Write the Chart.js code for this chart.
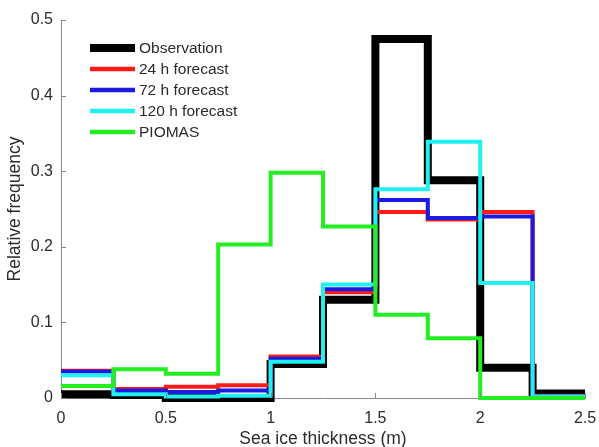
<!DOCTYPE html>
<html>
<head>
<meta charset="utf-8">
<script src="https://cdn.jsdelivr.net/npm/chart.js@4/dist/chart.umd.min.js"></script>
<style>
html,body{margin:0;padding:0;background:#fff;}
#wrap{width:599px;height:447px;position:relative;}
</style>
</head>
<body>
<div id="wrap"><canvas id="c" width="599" height="447"></canvas></div>
<script>
// Bin edges (m)
const binEdges = [0, 0.25, 0.5, 0.75, 1.0, 1.25, 1.5, 1.75, 2.0, 2.25, 2.5];
// Relative frequency per bin
const observation = [0.005, 0.004, 0.0, 0.0, 0.045, 0.13, 0.475, 0.288, 0.04, 0.006];
const forecast24  = [0.036, 0.012, 0.015, 0.017, 0.055, 0.14, 0.246, 0.236, 0.246, 0.003];
const forecast72  = [0.035, 0.010, 0.008, 0.010, 0.052, 0.144, 0.262, 0.238, 0.240, 0.002];
const forecast120 = [0.030, 0.005, 0.002, 0.003, 0.048, 0.150, 0.276, 0.339, 0.152, 0.002];
const piomas      = [0.016, 0.038, 0.032, 0.203, 0.298, 0.227, 0.110, 0.079, 0.0, 0.0];
const seriesNames = ['Observation', '24 h forecast', '72 h forecast', '120 h forecast', 'PIOMAS'];
const xTicks = [0, 0.5, 1, 1.5, 2, 2.5];
const yTicks = [0, 0.1, 0.2, 0.3, 0.4, 0.5];

const colors = ['#000000', '#ff1a1a', '#1a1ae0', '#1ff0f0', '#22ee22'];
const widths = [8, 4, 4, 4, 4];
const allVals = [observation, forecast24, forecast72, forecast120, piomas];

function toSteps(vals) {
  const pts = vals.map((v, i) => ({x: binEdges[i], y: v}));
  pts.push({x: binEdges[binEdges.length - 1], y: vals[vals.length - 1]});
  return pts;
}

const datasets = allVals.map((vals, i) => ({
  label: seriesNames[i],
  data: toSteps(vals),
  borderColor: colors[i],
  backgroundColor: colors[i],
  borderWidth: widths[i],
  stepped: 'before',
  pointRadius: 0,
  fill: false,
  clip: false,
  order: allVals.length - i,
  borderCapStyle: 'butt',
  borderJoinStyle: 'miter'
}));

const FONT = "'Liberation Sans', Arial, Helvetica, sans-serif";
const TXT = '#2b2b2b';
const AX = '#8a8a8a';
const fmt = v => String(+Number(v).toFixed(2));

const extras = {
  id: 'extras',
  afterDraw(chart) {
    const ctx = chart.ctx;
    const xs = chart.scales.x, ys = chart.scales.y;
    const a = chart.chartArea;
    ctx.save();
    // inward tick marks
    ctx.strokeStyle = AX;
    ctx.lineWidth = 1;
    yTicks.forEach(v => {
      const p = Math.round(ys.getPixelForValue(v)) + 0.5;
      ctx.beginPath(); ctx.moveTo(a.left, p); ctx.lineTo(a.left + 5, p); ctx.stroke();
    });
    xTicks.forEach(v => {
      const p = Math.round(xs.getPixelForValue(v)) + 0.5;
      ctx.beginPath(); ctx.moveTo(p, a.bottom); ctx.lineTo(p, a.bottom - 5); ctx.stroke();
    });
    // legend inside the plot
    const lx = a.left + 29, ly = a.top + 28, gap = 21, len = 45;
    ctx.font = '15.5px ' + FONT;
    ctx.textBaseline = 'middle';
    ctx.textAlign = 'left';
    seriesNames.forEach((n, i) => {
      const y = ly + i * gap;
      ctx.strokeStyle = colors[i];
      ctx.lineWidth = widths[i] + (i === 0 ? 0 : 0.5);
      ctx.lineCap = 'butt';
      ctx.beginPath(); ctx.moveTo(lx, y); ctx.lineTo(lx + len, y); ctx.stroke();
      ctx.fillStyle = TXT;
      ctx.fillText(n, lx + len + 4, y + 1);
    });
    ctx.restore();
  }
};

new Chart(document.getElementById('c'), {
  type: 'line',
  data: {datasets},
  options: {
    responsive: false,
    animation: false,
    devicePixelRatio: 1,
    layout: {padding: {top: 20, right: 14, bottom: 0, left: 0}},
    plugins: {legend: {display: false}, tooltip: {enabled: false}},
    scales: {
      x: {
        type: 'linear', min: 0, max: 2.5,
        afterBuildTicks: s => { s.ticks = xTicks.map(v => ({value: v})); },
        afterFit: s => { s.height = 49; s.paddingRight = 0; s.paddingLeft = 0; },
        grid: {display: false, drawTicks: false},
        border: {display: true, color: AX, width: 1},
        ticks: {color: TXT, font: {family: FONT, size: 16}, padding: 11, maxRotation: 0, callback: fmt},
        title: {display: true, text: 'Sea ice thickness (m)', color: TXT, font: {family: FONT, size: 17.5}, padding: {top: 0, bottom: -3}}
      },
      y: {
        type: 'linear', min: 0, max: 0.5,
        afterBuildTicks: s => { s.ticks = yTicks.map(v => ({value: v})); },
        afterFit: s => { s.width = 61; s.paddingTop = 0; s.paddingBottom = 0; },
        grid: {display: false, drawTicks: false},
        border: {display: true, color: AX, width: 1},
        ticks: {color: TXT, font: {family: FONT, size: 16}, padding: 8, callback: fmt},
        title: {display: true, text: 'Relative frequency', color: TXT, font: {family: FONT, size: 17.5}, padding: {top: 5, bottom: 0}}
      }
    }
  },
  plugins: [extras]
});
</script>
</body>
</html>
